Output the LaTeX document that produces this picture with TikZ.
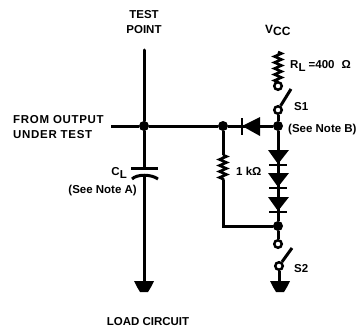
\documentclass[tikz,border=0pt]{standalone}
\usepackage{fontspec}
\setmainfont{Liberation Sans}
\usetikzlibrary{decorations.pathmorphing}

\tikzset{
  wire/.style = {line width=3pt},
  res/.style = {line width=2.6pt, decorate, decoration={zigzag, amplitude=3.5pt, segment length=6pt}},
  contact/.style = {circle, draw, line width=2.5pt, fill=white, inner sep=0pt, minimum size=7.5pt},
  junction/.style = {circle, fill, inner sep=0pt, minimum size=10pt},
  lbl/.style = {font=\bfseries\fontsize{11.5}{15}\selectfont, align=left, inner sep=0pt}
}
\newcommand{\gnd}[2]{\fill (#1-10,#2) -- (#1+10,#2) -- (#1+7,#2+6) -- (#1+4,#2+11) -- (#1-4,#2+11) -- (#1-7,#2+6) -- cycle;}
\newcommand{\downdiode}[1]{\fill (268,#1) -- (289,#1) -- (278,#1+14) -- cycle;
\draw[line width=2.6pt] (269,#1+15) -- (287,#1+15);}

\begin{document}
\begin{tikzpicture}[x=1pt,y=-1pt]
\useasboundingbox (0,0) rectangle (359,329);
\coordinate (tp) at (144,50);
\coordinate (from) at (111,126);
\coordinate (capT) at (144,168);
\coordinate (capB) at (144,174);
\coordinate (gndA) at (144,282);
\coordinate (rlTop) at (278,52);
\coordinate (rkTop) at (223,155);
\coordinate (rkBot) at (223,180);
\coordinate (corner) at (223,226);
\coordinate (arm1) at (291,89);
\coordinate (arm2) at (292,248);
\coordinate (gndB) at (279,282);
\node[junction] (jA) at (144,126) {};
\node[junction] (jB) at (223,126) {};
\node[junction] (jC) at (278,126) {};
\node[junction] (jD) at (278,226) {};
\node[contact] (c1) at (278,86) {};
\node[contact] (c2) at (278,110) {};
\node[contact] (c3) at (278,244) {};
\node[contact] (c4) at (279,266) {};
% wires
\draw[wire, line cap=round] (tp) -- (jA) -- (capT);
\draw[wire] (capB) -- (gndA);
\draw[wire] (from) -- (jA) -- (jB) -- (jC);
\draw[wire] (jB) -- (rkTop);
\draw[wire, line cap=round] (rkBot) -- (corner) -- (jD);
\draw[wire] (jC) -- (c2);
\draw[wire] (jC) -- (jD);
\draw[wire] (jD) -- (c3);
\draw[wire] (c4) -- (gndB);
\draw[wire] (c2) -- (arm1);
\draw[wire] (c4) -- (arm2);
% resistors
\draw[res] (rlTop) -- (278,82);
\draw[res] (rkTop) -- (rkBot);
% capacitor
\draw[wire] (131,168) -- (158,168);
\draw[wire] (132,179) .. controls (137,174) and (151,174) .. (158,179);
% diodes
\fill (242,126) -- (260,117) -- (260,136) -- cycle;
\draw[line width=2.6pt] (242,118) -- (242,135);
\downdiode{150}
\downdiode{173}
\downdiode{197}
\gnd{144}{281}
\gnd{280}{281}
% labels
\node[lbl, align=center] (testpoint) at (144,22) {TEST\\POINT};
\node[lbl, anchor=west, font=\bfseries\addfontfeature{LetterSpace=6}\fontsize{11.5}{15}\selectfont] (fromout) at (13,127) {FROM OUTPUT\\UNDER TEST};
\node[lbl, anchor=base west, font=\bfseries\fontsize{12}{12}\selectfont] (vcc) at (265,34) {V\raisebox{-2pt}{CC}};
\node[lbl, anchor=west] (rl) at (290,66) {R\raisebox{-3pt}{L} =400\hspace{7pt}Ω};
\node[lbl, anchor=west] (s1) at (294,107) {S1};
\node[lbl, anchor=west] (noteb) at (288,130) {(See Note B)};
\node[lbl, anchor=west] (rk) at (236,171) {1 kΩ};
\node[lbl, anchor=west] (s2) at (294,269) {S2};
\node[lbl, anchor=east] (cl) at (127,173) {C\raisebox{-3pt}{L}};
\node[lbl, anchor=east] (notea) at (137,191) {(See Note A)};
\node[lbl] (load) at (148,322) {LOAD CIRCUIT};
\end{tikzpicture}
\end{document}
